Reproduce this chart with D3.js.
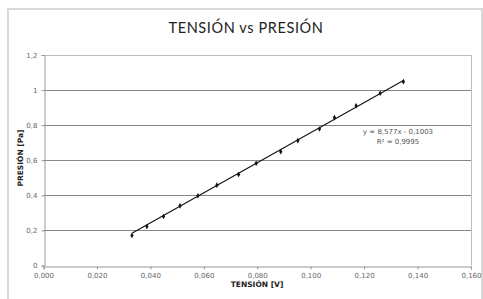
<!DOCTYPE html>
<html>
<head>
<meta charset="utf-8">
<script src="https://cdn.jsdelivr.net/npm/d3@7"></script>
<style>
  body { margin: 0; background: #fff; }
  text { font-family: "DejaVu Sans", sans-serif; }
</style>
</head>
<body>
<svg width="483" height="299"></svg>
<script>
// Data
var tension = [0.0331, 0.0387, 0.0449, 0.0511, 0.0578, 0.0649, 0.0730, 0.0796, 0.0888, 0.0952, 0.1033, 0.1089, 0.1170, 0.1260, 0.1347];
var presion = [0.171, 0.222, 0.279, 0.340, 0.398, 0.458, 0.519, 0.583, 0.649, 0.712, 0.778, 0.843, 0.911, 0.982, 1.048];
var xTicks = [0, 0.02, 0.04, 0.06, 0.08, 0.10, 0.12, 0.14, 0.16];
var yTicks = [0, 0.2, 0.4, 0.6, 0.8, 1, 1.2];
var slope = 8.577, intercept = -0.1003;
var eqLabels = ["y = 8,577x - 0,1003", "R² = 0,9995"];

var svg = d3.select("svg");

// outer chart frame
svg.append("path")
    .attr("d", "M8,299 L8,9 L482,9 L482,299")
    .attr("fill", "none")
    .attr("stroke", "#d9d9d9")
    .attr("stroke-width", 2);

var x = d3.scaleLinear().domain([0, 0.16]).range([43.5, 471]),
    y = d3.scaleLinear().domain([0, 1.2]).range([265.5, 55]);

// gridlines
svg.append("g").selectAll("line")
    .data(yTicks.slice(1)).enter()
    .append("line")
    .attr("x1", x(0)).attr("x2", x(0.16))
    .attr("y1", function(d) { return Math.round(y(d)) + 0.5; })
    .attr("y2", function(d) { return Math.round(y(d)) + 0.5; })
    .attr("stroke", function(d) { return d == 1.2 ? "#bdbdbd" : "#858585"; })
    .attr("stroke-width", 1);

// right border of plot area
svg.append("line")
    .attr("x1", 471.5).attr("x2", 471.5)
    .attr("y1", y(1.2)).attr("y2", y(0))
    .attr("stroke", "#bdbdbd");

var fmt = function(d) { return d3.format(".3f")(d).replace(".", ","); };
var fmtY = function(d) { return String(+d.toFixed(1)).replace(".", ","); };

var xAxis = svg.append("g")
    .attr("transform", "translate(0," + (Math.round(y(0)) + 0.5) + ")")
    .call(d3.axisBottom(x).tickValues(xTicks).tickFormat(fmt).tickSize(3).tickPadding(4));

var yAxis = svg.append("g")
    .attr("transform", "translate(" + (Math.round(x(0)) + 0.5) + ",0)")
    .call(d3.axisLeft(y).tickValues(yTicks).tickFormat(fmtY).tickSize(3).tickPadding(4));

[xAxis, yAxis].forEach(function(a) {
    a.select(".domain").attr("stroke", "#999");
    a.selectAll(".tick line").attr("stroke", "#999");
    a.selectAll(".tick text")
        .attr("fill", "#666")
        .style("font-family", "'DejaVu Sans', sans-serif")
        .style("font-size", "7px");
});

// trendline
svg.append("line")
    .attr("x1", x(d3.min(tension))).attr("y1", y(slope * d3.min(tension) + intercept))
    .attr("x2", x(d3.max(tension))).attr("y2", y(slope * d3.max(tension) + intercept))
    .attr("stroke", "#111")
    .attr("stroke-width", 1.1);

// markers
svg.append("g").selectAll("path")
    .data(d3.range(tension.length)).enter()
    .append("path")
    .attr("transform", function(i) { return "translate(" + x(tension[i]) + "," + y(presion[i]) + ")"; })
    .attr("d", d3.symbol().type(d3.symbolDiamond).size(9))
    .attr("fill", "#111");

// equation
svg.append("g").selectAll("text")
    .data(eqLabels).enter()
    .append("text")
    .attr("x", 398)
    .attr("y", function(d, i) { return 134 + i * 10; })
    .attr("text-anchor", "middle")
    .attr("fill", "#555")
    .style("font-size", "7px")
    .text(function(d) { return d; });

// title
svg.append("text")
    .attr("x", 246).attr("y", 33)
    .attr("text-anchor", "middle")
    .attr("fill", "#222")
    .style("font-family", "Lato, sans-serif")
    .style("font-size", "14.5px")
    .style("letter-spacing", "0.6px")
    .text("TENSIÓN vs PRESIÓN");

// axis titles
svg.append("text")
    .attr("x", 257).attr("y", 287)
    .attr("text-anchor", "middle")
    .attr("fill", "#222")
    .style("font-size", "7.5px")
    .style("font-weight", "bold")
    .text("TENSIÓN [V]");

svg.append("text")
    .attr("transform", "translate(23,158) rotate(-90)")
    .attr("text-anchor", "middle")
    .attr("fill", "#222")
    .style("font-size", "7.5px")
    .style("font-weight", "bold")
    .text("PRESIÓN [Pa]");
</script>
</body>
</html>
